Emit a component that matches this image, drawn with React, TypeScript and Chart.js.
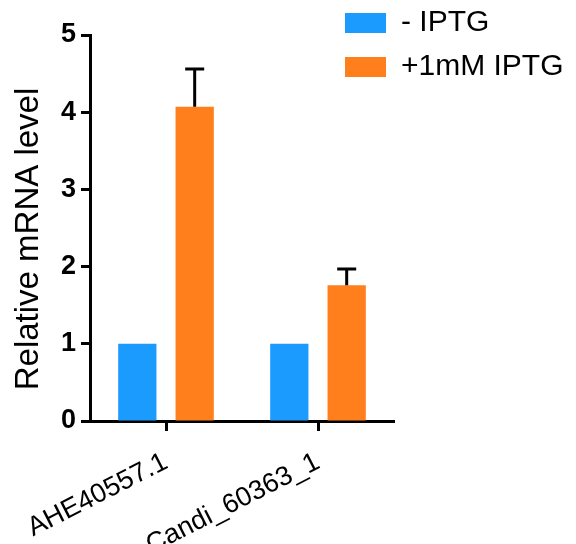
import React, { useEffect, useRef } from "react";
import { Chart, registerables } from "chart.js";

Chart.register(...registerables);

const categories = ["AHE40557.1", "Candi_60363_1"];
const seriesNames = ["- IPTG", "+1mM IPTG"];
const minusIPTG = [1.0, 1.0];
const plusIPTG = [4.07, 1.76];
const minusErr = [0, 0];
const plusErr = [0.49, 0.21];
const yTicks = [0, 1, 2, 3, 4, 5];
const yTitle = "Relative mRNA level";

const BLUE = "#1C9BFF";
const ORANGE = "#FF7F1C";
const FONT = "'Liberation Sans', Arial, Helvetica, sans-serif";

const errorBarPlugin = {
  id: "errorBars",
  afterDatasetsDraw(chart: any) {
    const ctx = chart.ctx;
    const yScale = chart.scales.y;
    chart.data.datasets.forEach((ds: any, di: number) => {
      const meta = chart.getDatasetMeta(di);
      const errs: number[] = ds.errors || [];
      meta.data.forEach((bar: any, i: number) => {
        const e = errs[i];
        if (!e) return;
        const v = ds.data[i];
        const yTop = yScale.getPixelForValue(v + e);
        const x = bar.x;
        ctx.save();
        ctx.strokeStyle = "#000";
        ctx.lineWidth = 3;
        ctx.beginPath();
        ctx.moveTo(x, bar.y);
        ctx.lineTo(x, yTop);
        ctx.moveTo(x - 9.5, yTop);
        ctx.lineTo(x + 9.5, yTop);
        ctx.stroke();
        ctx.restore();
      });
    });
  },
};

const overlayPlugin = {
  id: "overlay",
  afterDraw(chart: any) {
    const ctx = chart.ctx;
    ctx.save();
    // legend
    chart.data.datasets.forEach((ds: any, i: number) => {
      const y0 = 13 + i * 44;
      ctx.fillStyle = ds.backgroundColor;
      ctx.fillRect(345, y0, 41, 20);
      ctx.fillStyle = "#000";
      ctx.font = `30px ${FONT}`;
      ctx.textAlign = "left";
      ctx.textBaseline = "middle";
      ctx.fillText(ds.label, 401, y0 + 10);
    });
    // y title
    ctx.translate(29, 239);
    ctx.rotate(-Math.PI / 2);
    ctx.font = `33px ${FONT}`;
    ctx.textAlign = "center";
    ctx.textBaseline = "middle";
    ctx.fillStyle = "#000";
    ctx.fillText(yTitle, 0, 0);
    ctx.restore();
  },
};

export default function App() {
  const ref = useRef<HTMLCanvasElement | null>(null);
  useEffect(() => {
    document.body.style.margin = "0";
    const canvas = ref.current!;
    const chart = new Chart(canvas, {
      type: "bar",
      data: {
        labels: categories,
        datasets: [
          {
            label: seriesNames[0],
            data: minusIPTG,
            backgroundColor: BLUE,
            errors: minusErr,
            categoryPercentage: 0.755,
            barPercentage: 0.667,
          } as any,
          {
            label: seriesNames[1],
            data: plusIPTG,
            backgroundColor: ORANGE,
            errors: plusErr,
            categoryPercentage: 0.755,
            barPercentage: 0.667,
          } as any,
        ],
      },
      options: {
        animation: false,
        responsive: false,
        layout: { padding: { top: 35, right: 182, left: 0, bottom: 0 } },
        plugins: { legend: { display: false }, tooltip: { enabled: false } },
        scales: {
          x: {
            grid: {
              display: true,
              drawOnChartArea: false,
              offset: false,
              tickLength: 10,
              tickWidth: 3,
              color: "#000",
            },
            border: { display: true, width: 3, color: "#000" },
            ticks: {
              color: "#000",
              font: { family: FONT, size: 27 },
              minRotation: 27,
              maxRotation: 27,
              padding: 15,
              autoSkip: false,
            },
            afterFit(scale: any) {
              scale.height = 123;
              scale.paddingLeft = 0;
              scale.paddingRight = 0;
            },
          },
          y: {
            min: 0,
            max: 5,
            afterBuildTicks(scale: any) {
              scale.ticks = yTicks.map((v) => ({ value: v }));
            },
            grid: {
              display: true,
              drawOnChartArea: false,
              tickLength: 9,
              tickWidth: 3,
              color: "#000",
            },
            border: { display: true, width: 3, color: "#000" },
            ticks: {
              color: "#000",
              font: { family: FONT, size: 27, weight: "bold" },
              padding: 5,
            },
            afterFit(scale: any) {
              scale.width = 90;
              scale.paddingTop = 0;
              scale.paddingBottom = 0;
            },
          },
        },
      },
      plugins: [errorBarPlugin, overlayPlugin],
    } as any);
    return () => chart.destroy();
  }, []);
  return <canvas ref={ref} width={576} height={544} style={{ display: "block" }} />;
}
